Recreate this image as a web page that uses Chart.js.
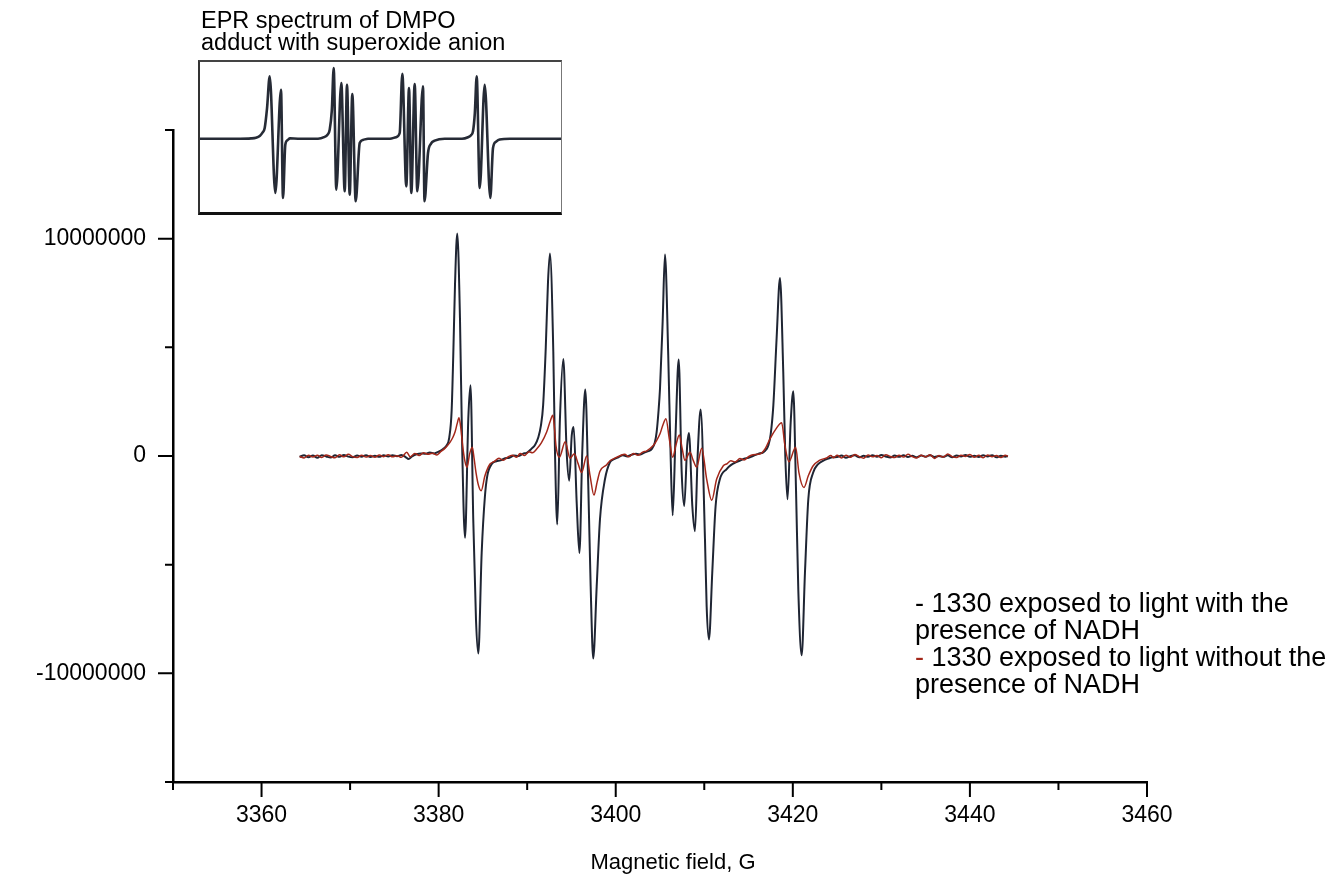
<!DOCTYPE html>
<html>
<head>
<meta charset="utf-8">
<title>EPR spectrum</title>
<script src="https://cdn.jsdelivr.net/npm/chart.js@4.4.1/dist/chart.umd.min.js"></script>
<style>
    body { margin: 0; background: #fff; font-family: "Liberation Sans", Arial, sans-serif; }
    #wrap { position: relative; width: 1332px; height: 875px; }
    #mainBox { position: absolute; left: 0; top: 0; width: 1332px; height: 875px; }
    #insetBox {
        position: absolute; left: 198px; top: 60px; width: 364px; height: 155px;
        box-sizing: border-box; background: #fff;
        border-left: 2px solid #333; border-top: 2px solid #444;
        border-right: 1px solid #777; border-bottom: 3px solid #111;
    }
    .txt { position: absolute; color: #000; white-space: nowrap; }
</style>
</head>
<body>
<div id="wrap">
    <div id="mainBox"><canvas id="chartEpr"></canvas></div>
    <div class="txt" style="left:201px; top:9px; font-size:23.5px; line-height:22px;">EPR spectrum of DMPO<br>adduct with superoxide anion</div>
    <div id="insetBox"><canvas id="chartInset"></canvas></div>
    <div class="txt" style="left:915px; top:590px; font-size:27px; line-height:27px;">
        <span>-</span> 1330 exposed to light with the<br>presence of NADH<br>
        <span style="color:#a3271a;">-</span> 1330 exposed to light without the<br>presence of NADH
    </div>
    <div class="txt" style="left:673px; top:849px; font-size:22px; line-height:26px; transform:translateX(-50%);">Magnetic field, G</div>
</div>

<script>
// signal values below are in units of 1e6
const SIG = 1e6;

// axis ticks
const xLabels = [3360, 3380, 3400, 3420, 3440, 3460];
const yLabels = [-10000000, 0, 10000000];

// 1330 exposed to light with NADH (black)
const nadhTrace = [
    [3364.3,-0.04],[3364.8,0.03],[3365.3,-0.06],[3365.8,0.02],[3366.3,-0.08],[3366.8,0.04],[3367.3,-0.02],[3367.8,-0.07],
    [3368.3,0.03],[3368.8,-0.04],[3369.3,0.05],[3369.8,-0.03],[3370.3,-0.06],[3370.8,0.02],[3371.3,-0.03],[3371.8,0.04],
    [3372.3,-0.05],[3372.8,0.01],[3373.3,-0.04],[3373.8,0.03],[3374.3,-0.02],[3374.8,0.04],[3375.3,-0.01],[3375.8,0.05],
    [3376.3,-0.06],[3376.6,-0.14],[3377.0,-0.02],[3377.5,0.08],[3378.0,0.12],[3378.5,0.1],[3379.0,0.16],[3379.5,0.12],
    [3380.0,0.2],[3380.5,0.32],[3380.9,0.48],[3381.2,0.85],[3381.47,2.1],[3381.65,4.6],[3381.85,7.9],[3382.1,10.24],
    [3382.41,6.34],[3382.67,0.17],[3382.98,-3.76],[3383.35,1.71],[3383.6,3.25],[3383.91,-2.92],[3384.22,-7.55],[3384.48,-9.09],
    [3384.86,-4.46],[3385.23,-1.84],[3385.5,-0.9],[3386.0,-0.37],[3386.5,-0.24],[3387.0,-0.2],[3387.5,-0.1],[3388.0,-0.08],
    [3388.5,0.02],[3389.0,0.0],[3389.5,0.1],[3390.0,0.16],[3390.5,0.34],[3390.9,0.52],[3391.25,0.85],[3391.55,1.4],
    [3391.8,2.33],[3392.1,5.0],[3392.35,8.0],[3392.57,9.32],[3392.95,4.8],[3393.14,0.18],[3393.4,-3.15],[3393.7,1.71],
    [3394.08,4.46],[3394.46,0.17],[3394.75,-1.14],[3395.03,0.94],[3395.25,1.33],[3395.59,-2.14],[3395.9,-4.46],[3396.22,0.17],
    [3396.56,3.06],[3396.9,-1.37],[3397.17,-6.0],[3397.46,-9.32],[3397.85,-6.0],[3398.22,-2.92],[3398.79,-1.06],[3399.35,-0.29],
    [3399.8,-0.15],[3400.3,-0.06],[3400.8,0.03],[3401.3,-0.02],[3401.8,0.06],[3402.3,0.1],[3402.8,0.07],[3403.3,0.17],
    [3403.7,0.22],[3404.06,0.32],[3404.4,0.6],[3404.62,1.1],[3404.82,2.0],[3405.0,3.1],[3405.3,6.19],[3405.56,9.27],
    [3405.93,4.64],[3406.2,0.01],[3406.43,-2.73],[3406.75,0.9],[3407.11,4.44],[3407.45,-0.76],[3407.74,-2.3],[3408.07,0.48],
    [3408.27,1.06],[3408.65,-2.3],[3408.95,-3.46],[3409.25,0.0],[3409.59,2.14],[3410.08,-3.84],[3410.27,-6.93],[3410.53,-8.44],
    [3410.9,-5.38],[3411.28,-2.3],[3411.77,-1.06],[3412.53,-0.6],[3413.0,-0.42],[3413.5,-0.3],[3414.0,-0.22],[3414.5,-0.12],
    [3415.0,-0.08],[3415.5,0.0],[3416.1,0.1],[3416.66,0.17],[3417.0,0.3],[3417.23,0.48],[3417.5,1.0],[3417.8,2.33],
    [3418.17,5.42],[3418.55,8.19],[3418.92,3.87],[3419.15,0.0],[3419.4,-1.99],[3419.76,1.56],[3420.05,2.98],[3420.36,-1.53],
    [3420.62,-6.16],[3421.0,-9.17],[3421.37,-5.38],[3421.75,-1.99],[3422.3,-0.76],[3422.8,-0.4],[3423.4,-0.22],[3424.0,-0.12],
    [3424.5,-0.06],[3425.0,-0.05],[3425.5,0.02],[3426.0,-0.08],[3426.5,-0.01],[3427.0,0.03],[3427.5,-0.06],[3428.0,0.01],
    [3428.5,-0.04],[3429.0,0.04],[3429.5,-0.03],[3430.0,0.05],[3430.5,-0.02],[3431.0,-0.07],[3431.5,0.02],[3432.0,-0.04],
    [3432.5,0.03],[3433.0,-0.05],[3433.5,0.01],[3434.0,-0.06],[3434.5,0.02],[3435.0,-0.03],[3435.5,0.04],[3436.0,-0.05],
    [3436.5,0.0],[3437.0,-0.04],[3437.5,0.03],[3438.0,-0.06],[3438.5,0.02],[3439.0,-0.02],[3439.5,0.05],[3440.0,-0.04],
    [3440.5,0.01],[3441.0,-0.05],[3441.5,0.03],[3442.0,-0.02],[3442.5,0.04],[3443.0,-0.06],[3443.5,0.01],[3444.0,-0.03],
    [3444.3,-0.01]
];

// 1330 exposed to light without NADH (red)
const noNadhTrace = [
    [3364.3,-0.02],[3364.8,-0.09],[3365.3,0.04],[3365.8,-0.05],[3366.3,0.03],[3366.8,-0.07],[3367.3,0.05],[3367.8,-0.02],
    [3368.3,-0.08],[3368.8,0.06],[3369.3,-0.04],[3369.8,0.08],[3370.3,-0.03],[3370.8,-0.07],[3371.3,0.04],[3371.8,-0.05],
    [3372.3,0.02],[3372.8,-0.06],[3373.3,0.05],[3373.8,-0.03],[3374.3,0.06],[3374.8,-0.04],[3375.3,0.01],[3375.8,-0.06],
    [3376.4,0.17],[3376.8,-0.04],[3377.3,0.12],[3377.8,0.02],[3378.3,0.15],[3378.8,0.08],[3379.3,0.13],[3379.8,0.05],
    [3380.15,0.17],[3380.7,0.35],[3381.28,0.63],[3381.6,0.85],[3381.85,1.1],[3382.1,1.5],[3382.3,1.76],[3382.5,1.3],
    [3382.71,0.48],[3382.95,-0.2],[3383.2,-0.52],[3383.5,0.1],[3383.8,0.4],[3384.0,-0.1],[3384.22,-0.76],[3384.5,-1.35],
    [3384.8,-1.6],[3385.23,-0.91],[3385.8,-0.37],[3386.3,-0.25],[3386.8,-0.1],[3387.3,-0.2],[3387.8,-0.05],[3388.3,0.04],
    [3388.8,-0.06],[3389.2,0.12],[3389.7,0.02],[3390.2,0.2],[3390.6,0.15],[3391.07,0.32],[3391.6,0.6],[3392.2,1.1],
    [3392.6,1.6],[3392.9,1.87],[3393.1,1.2],[3393.25,0.48],[3393.63,-0.06],[3394.3,0.66],[3394.83,-0.1],[3395.32,0.1],
    [3395.75,-0.35],[3396.15,-0.76],[3396.72,0.0],[3397.1,-0.9],[3397.54,-1.8],[3397.9,-1.2],[3398.22,-0.7],[3398.98,-0.4],
    [3399.35,-0.22],[3399.9,-0.1],[3400.48,0.01],[3401.0,0.08],[3401.5,-0.04],[3402.0,0.12],[3402.5,0.03],[3403.0,0.17],
    [3403.5,0.24],[3404.24,0.48],[3404.6,0.7],[3405.0,1.02],[3405.35,1.45],[3405.67,1.71],[3406.05,0.79],[3406.43,-0.06],
    [3406.8,0.5],[3407.18,0.97],[3407.5,0.35],[3407.82,-0.2],[3408.39,0.17],[3408.75,-0.2],[3409.14,-0.52],[3409.71,0.36],
    [3410.27,-1.06],[3410.84,-2.04],[3411.4,-1.06],[3412.15,-0.45],[3412.6,-0.35],[3413.0,-0.22],[3413.5,-0.28],[3414.03,-0.12],
    [3414.5,-0.18],[3415.0,-0.03],[3415.5,0.06],[3416.29,0.09],[3416.9,0.35],[3417.42,0.79],[3418.1,1.25],[3418.74,1.53],
    [3419.11,0.48],[3419.56,-0.26],[3420.32,0.4],[3420.69,-0.76],[3421.26,-1.45],[3421.75,-0.91],[3422.3,-0.45],[3423.0,-0.2],
    [3423.8,-0.09],[3424.3,0.02],[3424.6,-0.08],[3425.0,0.03],[3425.5,-0.09],[3426.0,0.04],[3426.5,-0.06],[3427.0,0.07],
    [3427.5,-0.03],[3428.0,-0.1],[3428.5,0.05],[3429.0,-0.04],[3429.5,0.02],[3430.0,-0.08],[3430.5,0.06],[3431.0,-0.02],
    [3431.5,-0.07],[3432.0,0.04],[3432.5,-0.05],[3433.0,0.08],[3433.5,-0.03],[3434.0,-0.09],[3434.5,0.03],[3435.0,-0.04],
    [3435.5,0.06],[3436.0,-0.11],[3436.5,0.02],[3437.0,-0.05],[3437.5,0.09],[3438.0,-0.03],[3438.5,-0.07],[3439.0,0.04],
    [3439.5,-0.02],[3440.0,0.07],[3440.5,-0.06],[3441.0,0.03],[3441.5,-0.08],[3442.0,0.05],[3442.5,-0.03],[3443.0,0.02],
    [3443.5,-0.07],[3444.0,0.04],[3444.3,-0.02]
];

// inset: reference DMPO-OOH spectrum (arbitrary units)
const insetTrace = [
    [0,0],[40,0],[51,0.3],[56,1],[60,3],[62.5,6],[64.7,10.7],[67,30],[69.7,62.4],[75.3,-54.3],[81,49],[83,-59.3],
    [85.3,-6],[87.5,-1.5],[90,0.3],[98,0],[118,0],[124,1.5],[127.5,4],[129.7,9],[131.8,28],[133.7,70.7],[136.3,-51],
    [141.3,55.7],[144.7,-52.6],[147,54],[149.7,-56],[152.3,44.7],[155.7,-62.6],[159.7,-4.3],[163,-1.2],[168,0],
    [190,0],[196,1.5],[199.7,5.7],[202.3,65],[206.3,-47.6],[209,50.7],[211.3,-54.3],[214.7,54.7],[217.3,-52.6],
    [223,52.4],[224.5,-62.6],[228,-14.3],[231,-5],[234.7,-2],[244.7,0],[262,0],[268,1.5],[271,3.5],[273,7.4],
    [274.8,25],[276.7,62.4],[279.7,-49.3],[284.7,54],[290.3,-59.3],[293,-9.3],[296,-3],[299.7,-0.8],[310,0],[361,0]
];

const toPoints = (arr, k) => arr.map(p => ({ x: p[0], y: p[1] * k }));

// tick marks drawn on the scales, long for labelled values, short otherwise
const tickMarks = {
    id: 'tickMarks',
    afterDraw(chart) {
        const { ctx, chartArea, scales } = chart;
        ctx.save();
        ctx.strokeStyle = '#000';
        ctx.lineWidth = 2;
        ctx.beginPath();
        scales.x.ticks.forEach(t => {
            const px = scales.x.getPixelForValue(t.value);
            const len = xLabels.includes(t.value) ? 15 : 8;
            ctx.moveTo(px, chartArea.bottom);
            ctx.lineTo(px, chartArea.bottom + len);
        });
        scales.y.ticks.forEach(t => {
            const py = scales.y.getPixelForValue(t.value);
            const len = yLabels.includes(t.value) ? 15 : 8;
            ctx.moveTo(chartArea.left, py);
            ctx.lineTo(chartArea.left - len, py);
        });
        ctx.stroke();
        ctx.restore();
    }
};

new Chart(document.getElementById('chartEpr'), {
    type: 'line',
    data: {
        datasets: [
            {
                label: '1330 exposed to light without the presence of NADH',
                data: toPoints(noNadhTrace, SIG),
                borderColor: '#a3271a',
                borderWidth: 1.5,
                pointRadius: 0,
                cubicInterpolationMode: 'monotone'
            },
            {
                label: '1330 exposed to light with the presence of NADH',
                data: toPoints(nadhTrace, SIG),
                borderColor: '#1f2533',
                borderWidth: 2,
                pointRadius: 0,
                cubicInterpolationMode: 'monotone'
            }
        ]
    },
    options: {
        responsive: true,
        maintainAspectRatio: false,
        animation: false,
        layout: { padding: { top: 130, right: 185, left: 0, bottom: 0 } },
        plugins: { legend: { display: false }, tooltip: { enabled: false } },
        scales: {
            x: {
                type: 'linear',
                min: 3350,
                max: 3460,
                afterFit: s => { s.height = 93; },
                border: { display: true, color: '#000', width: 2.5 },
                grid: { display: true, drawOnChartArea: false, tickLength: 15, tickColor: 'transparent' },
                ticks: {
                    stepSize: 10,
                    autoSkip: false,
                    maxRotation: 0,
                    padding: 5,
                    color: '#000',
                    font: { family: '"Liberation Sans", Arial, sans-serif', size: 23 },
                    callback: v => xLabels.includes(v) ? String(v) : ''
                }
            },
            y: {
                min: -15000000,
                max: 15000000,
                afterFit: s => { s.width = 173; },
                border: { display: true, color: '#000', width: 2.5 },
                grid: { display: true, drawOnChartArea: false, tickLength: 15, tickColor: 'transparent' },
                ticks: {
                    stepSize: 5000000,
                    autoSkip: false,
                    padding: 12,
                    color: '#000',
                    font: { family: '"Liberation Sans", Arial, sans-serif', size: 23 },
                    callback: v => yLabels.includes(v) ? String(v) : ''
                }
            }
        }
    },
    plugins: [tickMarks]
});

new Chart(document.getElementById('chartInset'), {
    type: 'line',
    data: {
        datasets: [{
            data: toPoints(insetTrace, 1),
            borderColor: '#262b36',
            borderWidth: 2.6,
            pointRadius: 0,
            cubicInterpolationMode: 'monotone'
        }]
    },
    options: {
        responsive: true,
        maintainAspectRatio: false,
        animation: false,
        layout: { padding: 0 },
        plugins: { legend: { display: false }, tooltip: { enabled: false } },
        scales: {
            x: { type: 'linear', min: 0, max: 361, display: false },
            y: { min: -73.3, max: 76.7, display: false }
        }
    }
});
</script>
</body>
</html>
